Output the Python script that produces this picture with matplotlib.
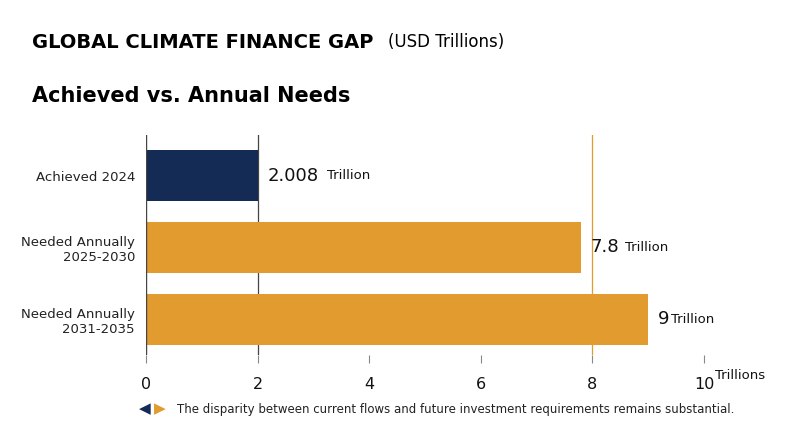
import matplotlib.pyplot as plt

categories = ['Achieved 2024', 'Needed Annually\n2025-2030', 'Needed Annually\n2031-2035']
values = [2.008, 7.8, 9]
value_labels = ['2.008', '7.8', '9']
colors = ['#132b55', '#e29b2f', '#e29b2f']
xticks = [0, 2, 4, 6, 8, 10]

fig = plt.figure(figsize=(8, 4.47), dpi=100)
ax = fig.add_axes([0.1825, 0.206, 0.6975, 0.492])

ax.barh(range(len(values)), values, height=0.71, color=colors, zorder=2)
ax.set_ylim(2.5, -0.57)
ax.set_xlim(0, 10)
ax.set_yticks(range(len(values)))
ax.set_yticklabels(categories, fontsize=9.5, color='#222222')
ax.tick_params(axis='y', length=0, pad=8)
ax.set_xticks(xticks)
ax.set_xticklabels([str(t) for t in xticks], fontsize=11.5, color='#111111')
ax.tick_params(axis='x', length=6, color='#888888', pad=10)
for s in ax.spines.values():
    s.set_visible(False)

ax.axvline(0, color='#444444', lw=1, zorder=3)
ax.axvline(2, color='#444444', lw=0.9, zorder=1)
ax.axvline(8, color='#e29b2f', lw=0.9, zorder=1)

for i, (v, lab) in enumerate(zip(values, value_labels)):
    ax.annotate(lab, (v, i), xytext=(7, 0), textcoords='offset points',
                va='center', ha='left', fontsize=13, color='#111111')
    ax.annotate('Trillion', (v, i), xytext=(7 + 9.2 * len(lab) - (3 if '.' in lab else 0), 0),
                textcoords='offset points', va='center', ha='left', fontsize=9.5, color='#111111')

fig.text(0.925, 0.161, 'Trillions', fontsize=9.5, ha='center', va='center', color='#111111')

fig.text(0.04, 0.905, 'GLOBAL CLIMATE FINANCE GAP', fontsize=14, fontweight='bold', va='center')
fig.text(0.485, 0.905, '(USD Trillions)', fontsize=12, va='center')
fig.text(0.04, 0.785, 'Achieved vs. Annual Needs', fontsize=15, fontweight='bold', va='center')

fig.text(0.181, 0.085, '\u25c0', color='#132b55', fontsize=11, ha='center', va='center')
fig.text(0.2, 0.085, '\u25b6', color='#e29b2f', fontsize=11, ha='center', va='center')
fig.text(0.221, 0.085, 'The disparity between current flows and future investment requirements remains substantial.',
         fontsize=8.5, va='center', color='#222222')

fig.savefig('out.png', dpi=100)
